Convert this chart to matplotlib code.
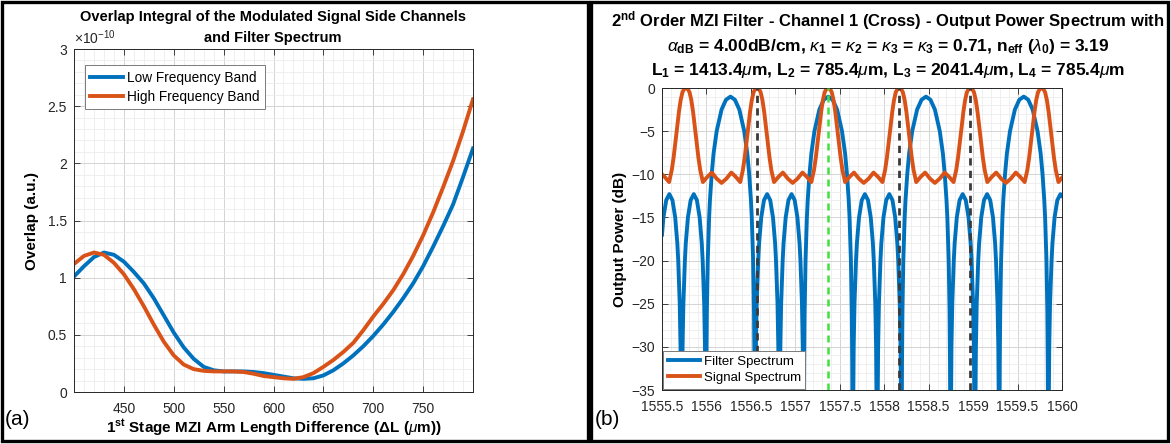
import matplotlib
matplotlib.use("Agg")
import matplotlib.pyplot as plt
from matplotlib.patches import Rectangle
from matplotlib.ticker import MultipleLocator

plt.rcParams.update({
    "font.family": ["Liberation Sans", "DejaVu Sans"],
    "mathtext.fontset": "custom",
    "mathtext.rm": "Liberation Sans",
    "mathtext.it": "Liberation Sans:italic",
    "mathtext.bf": "Liberation Sans:bold",
})

BLUE = "#0072BD"
ORANGE = "#D95319"
TICK = "#262626"

# ---- (a) overlap integral vs. 1st stage arm length difference (units of 1e-10) ----
delta_l = [400, 410, 420, 430, 440, 450, 460, 470, 480, 490, 500, 510, 520, 530, 540,
           550, 560, 570, 580, 590, 600, 610, 620, 630, 640, 650, 660, 670, 680, 690,
           700, 710, 720, 730, 740, 750, 760, 770, 780, 790, 800]
overlap_low = [1.01, 1.10, 1.18, 1.22, 1.20, 1.14, 1.05, 0.95, 0.82, 0.67, 0.52, 0.39, 0.29,
               0.22, 0.19, 0.18, 0.18, 0.18, 0.175, 0.165, 0.15, 0.135, 0.12, 0.115, 0.12,
               0.145, 0.19, 0.25, 0.32, 0.40, 0.49, 0.59, 0.70, 0.82, 0.95, 1.10, 1.27,
               1.45, 1.64, 1.88, 2.13]
overlap_high = [1.12, 1.19, 1.22, 1.20, 1.13, 1.03, 0.90, 0.75, 0.59, 0.44, 0.32, 0.24, 0.20,
                0.185, 0.18, 0.18, 0.18, 0.175, 0.16, 0.14, 0.13, 0.12, 0.115, 0.13, 0.165,
                0.22, 0.28, 0.35, 0.43, 0.54, 0.66, 0.77, 0.89, 1.03, 1.19, 1.37, 1.57,
                1.79, 2.02, 2.28, 2.56]
xticks_a = [450, 500, 550, 600, 650, 700, 750]
yticks_a = [0, 0.5, 1, 1.5, 2, 2.5, 3]
ytick_labels_a = ["0", "0.5", "1", "1.5", "2", "2.5", "3"]

# ---- (b) filter and signal spectra (dB) ----
filter_wl = [
    1555.50, 1555.516, 1555.5475, 1555.5825, 1555.6175, 1555.6485, 1555.6725, 1555.6825,
    1555.6995, 1555.7085, 1555.72, 1555.7315, 1555.7405, 1555.7575, 1555.7675, 1555.7915,
    1555.8225, 1555.8575, 1555.8925, 1555.9235, 1555.9475, 1555.9575, 1555.9745, 1555.9835,
    1555.995,
    1556.00, 1556.005, 1556.015, 1556.03, 1556.04, 1556.059, 1556.08, 1556.115, 1556.17,
    1556.22, 1556.27, 1556.32, 1556.37, 1556.425, 1556.46, 1556.481, 1556.50, 1556.51,
    1556.525, 1556.535, 1556.54, 1556.545,
    1556.5565, 1556.5655, 1556.5825, 1556.5925, 1556.6165, 1556.6475, 1556.6825, 1556.7175,
    1556.7485, 1556.7725, 1556.7825, 1556.7995, 1556.8085, 1556.82,
    1556.8315, 1556.8405, 1556.8575, 1556.8675, 1556.8915, 1556.9225, 1556.9575, 1556.9925,
    1557.0235, 1557.0475, 1557.0575, 1557.0745, 1557.0835, 1557.095,
    1557.10, 1557.105, 1557.115, 1557.13, 1557.14, 1557.159, 1557.18, 1557.215, 1557.27,
    1557.32, 1557.37, 1557.42, 1557.47, 1557.525, 1557.56, 1557.581, 1557.60, 1557.61,
    1557.625, 1557.635, 1557.64, 1557.645,
    1557.6565, 1557.6655, 1557.6825, 1557.6925, 1557.7165, 1557.7475, 1557.7825, 1557.8175,
    1557.8485, 1557.8725, 1557.8825, 1557.8995, 1557.9085, 1557.92,
    1557.9315, 1557.9405, 1557.9575, 1557.9675, 1557.9915, 1558.0225, 1558.0575, 1558.0925,
    1558.1235, 1558.1475, 1558.1575, 1558.1745, 1558.1835, 1558.195,
    1558.20, 1558.205, 1558.215, 1558.23, 1558.24, 1558.259, 1558.28, 1558.315, 1558.37,
    1558.42, 1558.47, 1558.52, 1558.57, 1558.625, 1558.66, 1558.681, 1558.70, 1558.71,
    1558.725, 1558.735, 1558.74, 1558.745,
    1558.7565, 1558.7655, 1558.7825, 1558.7925, 1558.8165, 1558.8475, 1558.8825, 1558.9175,
    1558.9485, 1558.9725, 1558.9825, 1558.9995, 1559.0085, 1559.02,
    1559.0315, 1559.0405, 1559.0575, 1559.0675, 1559.0915, 1559.1225, 1559.1575, 1559.1925,
    1559.2235, 1559.2475, 1559.2575, 1559.2745, 1559.2835, 1559.295,
    1559.30, 1559.305, 1559.315, 1559.33, 1559.34, 1559.359, 1559.38, 1559.415, 1559.47,
    1559.52, 1559.57, 1559.62, 1559.67, 1559.725, 1559.76, 1559.781, 1559.80, 1559.81,
    1559.825, 1559.835, 1559.84, 1559.845,
    1559.8565, 1559.8655, 1559.8825, 1559.8925, 1559.9165, 1559.9475, 1559.9825, 1560.0,
]
filter_db = [
    -17.0, -15.0, -13.0, -12.3, -13.0, -15.0, -18.0, -20.0, -25.0, -30.0, -45.0,
    -30.0, -25.0, -20.0, -18.0, -15.0, -13.0, -12.3, -13.0, -15.0, -18.0, -20.0, -25.0,
    -30.0, -45.0,
    -32.0, -25.9, -19.9, -15.0, -12.9, -10.0, -7.6, -5.0, -2.5, -1.36, -1.0, -1.36, -2.5,
    -5.0, -7.6, -10.0, -12.9, -15.0, -19.9, -25.9, -32.0, -45.0,
    -30.0, -25.0, -20.0, -18.0, -15.0, -13.0, -12.3, -13.0, -15.0, -18.0, -20.0, -25.0,
    -30.0, -45.0,
    -30.0, -25.0, -20.0, -18.0, -15.0, -13.0, -12.3, -13.0, -15.0, -18.0, -20.0, -25.0,
    -30.0, -45.0,
    -32.0, -25.9, -19.9, -15.0, -12.9, -10.0, -7.6, -5.0, -2.5, -1.36, -1.0, -1.36, -2.5,
    -5.0, -7.6, -10.0, -12.9, -15.0, -19.9, -25.9, -32.0, -45.0,
    -30.0, -25.0, -20.0, -18.0, -15.0, -13.0, -12.3, -13.0, -15.0, -18.0, -20.0, -25.0,
    -30.0, -45.0,
    -30.0, -25.0, -20.0, -18.0, -15.0, -13.0, -12.3, -13.0, -15.0, -18.0, -20.0, -25.0,
    -30.0, -45.0,
    -32.0, -25.9, -19.9, -15.0, -12.9, -10.0, -7.6, -5.0, -2.5, -1.36, -1.0, -1.36, -2.5,
    -5.0, -7.6, -10.0, -12.9, -15.0, -19.9, -25.9, -32.0, -45.0,
    -30.0, -25.0, -20.0, -18.0, -15.0, -13.0, -12.3, -13.0, -15.0, -18.0, -20.0, -25.0,
    -30.0, -45.0,
    -30.0, -25.0, -20.0, -18.0, -15.0, -13.0, -12.3, -13.0, -15.0, -18.0, -20.0, -25.0,
    -30.0, -45.0,
    -32.0, -25.9, -19.9, -15.0, -12.9, -10.0, -7.6, -5.0, -2.5, -1.36, -1.0, -1.36, -2.5,
    -5.0, -7.6, -10.0, -12.9, -15.0, -19.9, -25.9, -32.0, -45.0,
    -30.0, -25.0, -20.0, -18.0, -15.0, -13.0, -12.3, -12.5,
]

signal_wl = [
    1555.50, 1555.53, 1555.58, 1555.61, 1555.63, 1555.65, 1555.67, 1555.69, 1555.71,
    1555.73, 1555.75, 1555.77,
    1555.79, 1555.81, 1555.83, 1555.85, 1555.87, 1555.89, 1555.91, 1555.93, 1555.96,
    1556.01, 1556.06, 1556.115, 1556.17, 1556.225, 1556.28, 1556.33, 1556.38, 1556.41,
    1556.43, 1556.45, 1556.47, 1556.49, 1556.51, 1556.53, 1556.55, 1556.57,
    1556.59, 1556.61, 1556.63, 1556.65, 1556.67, 1556.69, 1556.71, 1556.73, 1556.76,
    1556.81, 1556.86, 1556.915, 1556.97, 1557.025, 1557.08, 1557.13, 1557.18, 1557.21,
    1557.23, 1557.25, 1557.27, 1557.29, 1557.31, 1557.33, 1557.35, 1557.37,
    1557.39, 1557.41, 1557.43, 1557.45, 1557.47, 1557.49, 1557.51, 1557.53, 1557.56,
    1557.61, 1557.66, 1557.715, 1557.77, 1557.825, 1557.88, 1557.93, 1557.98, 1558.01,
    1558.03, 1558.05, 1558.07, 1558.09, 1558.11, 1558.13, 1558.15, 1558.17,
    1558.19, 1558.21, 1558.23, 1558.25, 1558.27, 1558.29, 1558.31, 1558.33, 1558.36,
    1558.41, 1558.46, 1558.515, 1558.57, 1558.625, 1558.68, 1558.73, 1558.78, 1558.81,
    1558.83, 1558.85, 1558.87, 1558.89, 1558.91, 1558.93, 1558.95, 1558.97,
    1558.99, 1559.01, 1559.03, 1559.05, 1559.07, 1559.09, 1559.11, 1559.13, 1559.16,
    1559.21, 1559.26, 1559.315, 1559.37, 1559.425, 1559.48, 1559.53, 1559.58, 1559.61,
    1559.63, 1559.65, 1559.67, 1559.69, 1559.71, 1559.73, 1559.75, 1559.77,
    1559.79, 1559.81, 1559.83, 1559.85, 1559.87, 1559.89, 1559.91, 1559.93, 1559.96,
    1560.0,
]
signal_db = [
    -10.0, -10.3, -10.9, -9.5, -8.1, -6.4, -4.6, -2.8, -1.4, -0.5, -0.1, 0.0,
    -0.1, -0.5, -1.4, -2.8, -4.6, -6.4, -8.1, -9.5, -10.9, -10.3, -9.8, -10.5, -11.0,
    -10.5, -9.8, -10.3, -10.9, -9.5, -8.1, -6.4, -4.6, -2.8, -1.4, -0.5, -0.1, 0.0,
    -0.1, -0.5, -1.4, -2.8, -4.6, -6.4, -8.1, -9.5, -10.9, -10.3, -9.8, -10.5, -11.0,
    -10.5, -9.8, -10.3, -10.9, -9.5, -8.1, -6.4, -4.6, -2.8, -1.4, -0.5, -0.1, 0.0,
    -0.1, -0.5, -1.4, -2.8, -4.6, -6.4, -8.1, -9.5, -10.9, -10.3, -9.8, -10.5, -11.0,
    -10.5, -9.8, -10.3, -10.9, -9.5, -8.1, -6.4, -4.6, -2.8, -1.4, -0.5, -0.1, 0.0,
    -0.1, -0.5, -1.4, -2.8, -4.6, -6.4, -8.1, -9.5, -10.9, -10.3, -9.8, -10.5, -11.0,
    -10.5, -9.8, -10.3, -10.9, -9.5, -8.1, -6.4, -4.6, -2.8, -1.4, -0.5, -0.1, 0.0,
    -0.1, -0.5, -1.4, -2.8, -4.6, -6.4, -8.1, -9.5, -10.9, -10.3, -9.8, -10.5, -11.0,
    -10.5, -9.8, -10.3, -10.9, -9.5, -8.1, -6.4, -4.6, -2.8, -1.4, -0.5, -0.1, 0.0,
    -0.1, -0.5, -1.4, -2.8, -4.6, -6.4, -8.1, -9.5, -10.9, -10.4,
]
channel_wl = 1557.37
neighbour_wl = [1556.57, 1558.17, 1558.97]
xticks_b = [1555.5, 1556, 1556.5, 1557, 1557.5, 1558, 1558.5, 1559, 1559.5, 1560]
xtick_labels_b = ["1555.5", "1556", "1556.5", "1557", "1557.5", "1558", "1558.5",
                  "1559", "1559.5", "1560"]
yticks_b = [-35, -30, -25, -20, -15, -10, -5, 0]

W, H = 1171.0, 444.0


def px(x, y):
    """Pixel position (from top-left) to figure fraction."""
    return x / W, 1 - y / H


def matlab_style(ax):
    ax.set_axisbelow(True)
    ax.grid(True, which="major", color="#d4d4d4", lw=0.7)
    ax.grid(True, which="minor", color="#ececec", lw=0.6)
    ax.tick_params(which="both", direction="in", top=True, right=True,
                   labelsize=10, colors=TICK, labelcolor=TICK)
    ax.tick_params(which="major", length=4, width=0.6)
    ax.tick_params(axis="x", which="major", pad=7)
    ax.tick_params(axis="y", which="major", pad=5)
    ax.tick_params(which="minor", length=0)
    for s in ax.spines.values():
        s.set_color(TICK)
        s.set_linewidth(0.7)


fig = plt.figure(figsize=(11.71, 4.44), dpi=100)

# panel frames
fig.patches.append(Rectangle(px(2, 441), 586 / W, 439 / H, transform=fig.transFigure,
                             fill=False, ec="black", lw=2.4))
fig.patches.append(Rectangle(px(591, 441), 577 / W, 439 / H, transform=fig.transFigure,
                             fill=False, ec="black", lw=2.4))

# ---------------- panel (a) ----------------
ax1 = fig.add_axes([74 / W, 1 - 392 / H, 399 / W, 343 / H])
ax1.plot(delta_l, overlap_low, color=BLUE, lw=2.8, label="Low Frequency Band")
ax1.plot(delta_l, overlap_high, color=ORANGE, lw=2.8, label="High Frequency Band")
ax1.set_xlim(400, 800)
ax1.set_ylim(0, 3)
ax1.set_xticks(xticks_a)
ax1.set_yticks(yticks_a)
ax1.set_yticklabels(ytick_labels_a)
ax1.xaxis.set_minor_locator(MultipleLocator(10))
ax1.yaxis.set_minor_locator(MultipleLocator(0.1))
matlab_style(ax1)
fig.text(*px(273, 17), "Overlap Integral of the Modulated Signal Side Channels",
         fontsize=10.5, fontweight="bold", ha="center", va="center")
fig.text(*px(273, 38), "and Filter Spectrum",
         fontsize=10.5, fontweight="bold", ha="center", va="center")
ax1.set_ylabel("Overlap (a.u.)", fontsize=11, fontweight="bold", labelpad=6)
ax1.set_xlabel(r"1$^{\mathbf{st}}$ Stage MZI Arm Length Difference ($\mathbf{\Delta}$L ($\mu$m))",
               fontsize=11, fontweight="bold", labelpad=1)
fig.text(*px(74, 38), r"$\times$10$^{-10}$", fontsize=10, color=TICK, ha="left", va="center")
leg1 = ax1.legend(loc="upper left", bbox_to_anchor=(0.02, 0.96), fontsize=9.8,
                  frameon=True, fancybox=False, edgecolor="#7a7a7a", framealpha=1,
                  handlelength=2.4, handletextpad=0.3, borderpad=0.4, labelspacing=0.35,
                  borderaxespad=0.2)
leg1.get_frame().set_linewidth(0.7)

# ---------------- panel (b) ----------------
ax2 = fig.add_axes([662 / W, 1 - 390 / H, 400 / W, 302 / H])
ax2.plot(filter_wl, filter_db, color=BLUE, lw=2.8, label="Filter Spectrum")
ax2.plot(signal_wl, signal_db, color=ORANGE, lw=2.8, label="Signal Spectrum")
for wl in neighbour_wl:
    ax2.axvline(wl, color="#3a3a3a", lw=2.0, ls=(0, (2.6, 1.9)), zorder=3)
ax2.axvline(channel_wl, color="#3fe03f", lw=1.8, ls=(0, (2.8, 2.0)), zorder=3)
ax2.set_xlim(1555.5, 1560)
ax2.set_ylim(-35, 0)
ax2.set_xticks(xticks_b)
ax2.set_xticklabels(xtick_labels_b)
ax2.set_yticks(yticks_b)
ax2.xaxis.set_minor_locator(MultipleLocator(0.1))
ax2.yaxis.set_minor_locator(MultipleLocator(1))
matlab_style(ax2)
ax2.set_ylabel("Output Power (dB)", fontsize=11, fontweight="bold", labelpad=3)
fig.text(*px(888, 21),
         r"2$^{\mathbf{nd}}$ Order MZI Filter - Channel 1 (Cross) - Output Power Spectrum with",
         fontsize=12, fontweight="bold", ha="center", va="center")
fig.text(*px(888, 46),
         r"$\alpha_{\mathbf{dB}}$ = 4.00dB/cm, $\kappa_{\mathbf{1}}$ = $\kappa_{\mathbf{2}}$ = "
         r"$\kappa_{\mathbf{3}}$ = $\kappa_{\mathbf{3}}$ = 0.71, n$_{\mathbf{eff}}$ "
         r"($\lambda_{\mathbf{0}}$) = 3.19",
         fontsize=12.5, fontweight="bold", ha="center", va="center")
fig.text(*px(888, 71),
         r"L$_{\mathbf{1}}$ = 1413.4$\mu$m, L$_{\mathbf{2}}$ = 785.4$\mu$m, "
         r"L$_{\mathbf{3}}$ = 2041.4$\mu$m, L$_{\mathbf{4}}$ = 785.4$\mu$m",
         fontsize=12.5, fontweight="bold", ha="center", va="center")
leg2 = ax2.legend(loc="lower left", fontsize=9.5, frameon=True, fancybox=False,
                  edgecolor="#7a7a7a", framealpha=1, handlelength=2.4, handletextpad=0.3,
                  borderpad=0.35, labelspacing=0.3, borderaxespad=0.1)
leg2.get_frame().set_linewidth(0.7)

fig.text(*px(5, 419), "(a)", fontsize=15, va="center", ha="left")
fig.text(*px(595, 419), "(b)", fontsize=15, va="center", ha="left")

fig.savefig("out.png", dpi=100)
